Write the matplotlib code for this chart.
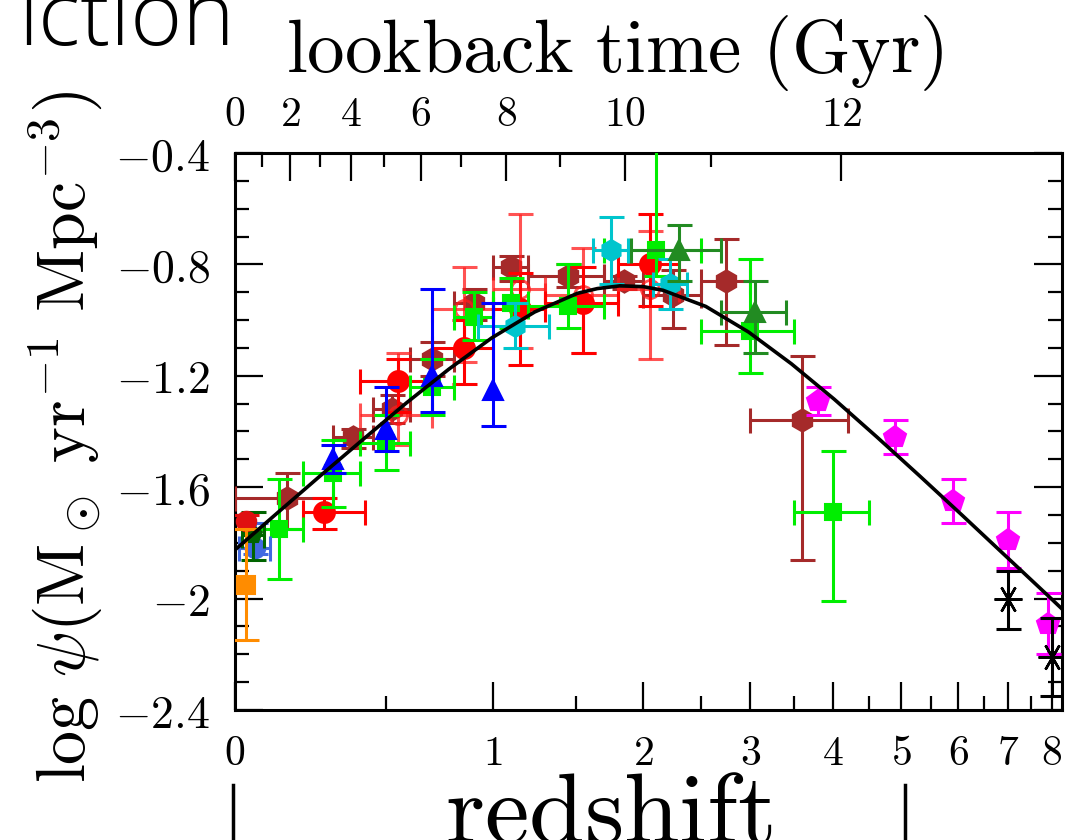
import numpy as np
import matplotlib
matplotlib.use('Agg')
import matplotlib.pyplot as plt
from matplotlib.lines import Line2D
from matplotlib.ticker import FixedLocator, FixedFormatter

plt.rcParams['mathtext.fontset'] = 'cm'
plt.rcParams['font.family'] = ['DejaVu Serif']

# --- cosmic star formation rate density data (redshift, log psi) ---
# UV
wyder_z, wyder_lo, wyder_hi = [0.055], [0.01], [0.1]
wyder_y, wyder_up, wyder_dn = [-1.82], [0.09], [0.02]

schim_z = [0.3, 0.5, 0.7, 1.0]
schim_y = [-1.50, -1.39, -1.20, -1.25]
schim_up = [0.05, 0.15, 0.31, 0.31]
schim_dn = [0.05, 0.08, 0.13, 0.13]

robot_z, robot_lo, robot_hi = [0.05], [0.02], [0.08]
robot_y, robot_up, robot_dn = [-1.77], [0.08], [0.09]

cucc_z = [0.125, 0.3, 0.5, 0.7, 0.9, 1.1, 1.45, 2.1, 3.0, 4.0]
cucc_lo = [0.05, 0.2, 0.4, 0.6, 0.8, 1.0, 1.2, 1.7, 2.5, 3.5]
cucc_hi = [0.2, 0.4, 0.6, 0.8, 1.0, 1.2, 1.7, 2.5, 3.5, 4.5]
cucc_y = [-1.75, -1.55, -1.44, -1.24, -0.99, -0.94, -0.95, -0.75, -1.04, -1.69]
cucc_up = [0.18, 0.12, 0.10, 0.10, 0.09, 0.09, 0.15, 0.49, 0.26, 0.22]
cucc_dn = [0.18, 0.12, 0.10, 0.10, 0.08, 0.09, 0.08, 0.09, 0.15, 0.32]

dahlen_z = [1.125, 1.75, 2.225]
dahlen_lo = [0.92, 1.62, 2.08]
dahlen_hi = [1.33, 1.88, 2.37]
dahlen_y = [-1.02, -0.75, -0.87]
dahlen_err = [0.08, 0.12, 0.09]

reddy_z, reddy_lo, reddy_hi = [2.3, 3.05], [1.9, 2.7], [2.7, 3.4]
reddy_y, reddy_up, reddy_dn = [-0.75, -0.97], [0.09, 0.11], [0.11, 0.15]

bouw_z = [3.8, 4.9, 5.9, 7.0, 7.9]
bouw_y = [-1.29, -1.42, -1.65, -1.79, -2.09]
bouw_err = [0.05, 0.06, 0.08, 0.10, 0.11]

schenk_z = [7.0, 8.0]
schenk_y = [-2.00, -2.21]
schenk_up = [0.10, 0.14]
schenk_dn = [0.11, 0.14]

# IR
sand_z, sand_y, sand_up, sand_dn = [0.03], [-1.72], [0.02], [0.03]
take_z, take_y, take_err = [0.03], [-1.95], [0.20]

mag11_z = [0.55, 0.85, 1.15, 1.55, 2.05]
mag11_lo = [0.4, 0.7, 1.0, 1.3, 1.8]
mag11_hi = [0.7, 1.0, 1.3, 1.8, 2.3]
mag11_y = [-1.34, -0.96, -0.89, -0.91, -0.89]
mag11_up = [0.22, 0.15, 0.27, 0.17, 0.21]
mag11_dn = [0.11, 0.19, 0.21, 0.21, 0.25]

mag13_z = [0.27, 0.55, 0.85, 1.15, 1.55, 2.05]
mag13_lo = [0.2, 0.4, 0.7, 1.0, 1.3, 1.8]
mag13_hi = [0.42, 0.7, 1.0, 1.3, 1.8, 2.3]
mag13_y = [-1.69, -1.22, -1.10, -0.96, -0.94, -0.80]
mag13_up = [0.05, 0.08, 0.10, 0.13, 0.13, 0.18]
mag13_dn = [0.06, 0.11, 0.13, 0.20, 0.18, 0.15]

grup_z = [0.15, 0.375, 0.525, 0.7, 0.9, 1.1, 1.45, 1.85, 2.25, 2.75, 3.6]
grup_lo = [0.0, 0.3, 0.45, 0.6, 0.8, 1.0, 1.2, 1.7, 2.0, 2.5, 3.0]
grup_hi = [0.3, 0.45, 0.6, 0.8, 1.0, 1.2, 1.7, 2.0, 2.5, 3.0, 4.2]
grup_y = [-1.64, -1.42, -1.32, -1.14, -0.94, -0.81, -0.84, -0.86, -0.91, -0.86, -1.36]
grup_up = [0.09, 0.03, 0.05, 0.06, 0.05, 0.04, 0.04, 0.02, 0.09, 0.15, 0.23]
grup_dn = [0.11, 0.04, 0.05, 0.06, 0.06, 0.05, 0.04, 0.03, 0.12, 0.23, 0.50]

# best-fit curve, read along its length
fit_z = [0.0, 0.122, 0.259, 0.413, 0.585, 0.778, 0.995, 1.239, 1.512, 1.65,
         1.818, 2.0, 2.162, 2.548, 2.981, 3.467, 4.012, 4.623, 5.31, 6.079,
         6.943, 7.913, 8.33]
fit_y = [-1.825, -1.691, -1.558, -1.427, -1.298, -1.176, -1.064, -0.971,
         -0.904, -0.887, -0.877, -0.880, -0.893, -0.951, -1.043, -1.157,
         -1.284, -1.420, -1.560, -1.702, -1.846, -1.990, -2.048]

y_ticks = [-0.4, -0.8, -1.2, -1.6, -2.0, -2.4]
y_labels = ['$-0.4$', '$-0.8$', '$-1.2$', '$-1.6$', '$-2$', '$-2.4$']
z_ticks = [0, 1, 2, 3, 4, 5, 6, 7, 8]
lookback_major = [0, 2, 4, 6, 8, 10, 12]
lookback_minor = [1, 3, 5, 7, 9, 11]

# flat LCDM, H0=70, Om=0.3
OM, OL = 0.3, 0.7
A = 2.0 / 3.0 * (977.8 / 70.0) / np.sqrt(OL)
T0 = A * np.arcsinh(np.sqrt(OL / OM))


def z_at_lookback(t):
    age = T0 - np.asarray(t, dtype=float)
    x = np.sinh(age / A) / np.sqrt(OL / OM)
    return np.maximum(x ** (-2.0 / 3.0) - 1.0, 0.0)


def fwd(z):
    return np.log10(1.0 + np.asarray(z))


def inv(u):
    return 10.0 ** np.asarray(u) - 1.0


fig = plt.figure(figsize=(10.66, 8.40), dpi=100)
ax = fig.add_axes([0.2205, 0.1548, 0.7757, 0.6631])
ax.set_xscale('function', functions=(fwd, inv))


def draw(z, y, up, dn, color, marker, ms, lo=None, hi=None, mfc=None, alpha=1.0, mew=1.5):
    xerr = None
    if lo is not None:
        xerr = [np.subtract(z, lo), np.subtract(hi, z)]
    ax.errorbar(z, y, yerr=[dn, up], xerr=xerr, fmt='none', ecolor=color,
                elinewidth=2.2, capsize=9, capthick=2.2, alpha=alpha, zorder=3)
    ax.plot(z, y, ls='none', marker=marker, ms=ms, mec=color, mew=mew,
            mfc=color if mfc is None else mfc, alpha=alpha, zorder=3)


draw(grup_z, grup_y, grup_up, grup_dn, '#a52a2a', 'h', 16, grup_lo, grup_hi)
draw(mag11_z, mag11_y, mag11_up, mag11_dn, '#ff1a1a', 'o', 13, mag11_lo, mag11_hi,
     mfc='none', alpha=0.75, mew=2)
draw(mag13_z, mag13_y, mag13_up, mag13_dn, '#ff0000', 'o', 15, mag13_lo, mag13_hi)
draw(cucc_z, cucc_y, cucc_up, cucc_dn, '#00ee00', 's', 12, cucc_lo, cucc_hi)
draw(dahlen_z, dahlen_y, dahlen_err, dahlen_err, '#00c5cd', 'h', 15, dahlen_lo, dahlen_hi)
draw(reddy_z, reddy_y, reddy_up, reddy_dn, '#228b22', '^', 14, reddy_lo, reddy_hi)
draw(schim_z, schim_y, schim_up, schim_dn, '#0000ff', '^', 14)
draw(wyder_z, wyder_y, wyder_up, wyder_dn, '#4169e1', 'o', 14, wyder_lo, wyder_hi)
draw(robot_z, robot_y, robot_up, robot_dn, '#006400', 'p', 13, robot_lo, robot_hi)
draw(sand_z, sand_y, sand_up, sand_dn, '#e01010', 'o', 14)
draw(take_z, take_y, take_err, take_err, '#ff8c00', 's', 13)
draw(bouw_z, bouw_y, bouw_err, bouw_err, '#ff00ff', 'p', 16)
draw(schenk_z, schenk_y, schenk_up, schenk_dn, '#000000', (6, 2, 90), 20, mew=1.8)

ax.plot(fit_z, fit_y, color='black', lw=2.6, zorder=6)

ax.set_xlim(0, 8.25)
ax.set_ylim(-2.4, -0.4)
for s in ax.spines.values():
    s.set_linewidth(2.2)

ax.xaxis.set_major_locator(FixedLocator(z_ticks))
ax.xaxis.set_major_formatter(FixedFormatter(['$%d$' % z for z in z_ticks]))
ax.xaxis.set_minor_locator(FixedLocator([z + 0.5 for z in z_ticks[:-1]]))
ax.yaxis.set_major_locator(FixedLocator(y_ticks))
ax.yaxis.set_major_formatter(FixedFormatter(y_labels))
ax.yaxis.set_minor_locator(FixedLocator(np.arange(-2.3, -0.4, 0.1)))

ax.tick_params(which='both', direction='in', width=1.6, top=False, right=True)
ax.tick_params(which='major', length=20)
ax.tick_params(which='minor', length=10)
ax.tick_params(axis='x', labelsize=30, pad=16)
ax.tick_params(axis='y', labelsize=33, pad=18)

# lookback time along the top
top = ax.twiny()
top.set_xscale('function', functions=(fwd, inv))
top.set_xlim(ax.get_xlim())
top.xaxis.set_major_locator(FixedLocator(z_at_lookback(lookback_major)))
top.xaxis.set_major_formatter(FixedFormatter(['$%d$' % t for t in lookback_major]))
top.xaxis.set_minor_locator(FixedLocator(z_at_lookback(lookback_minor)))
top.tick_params(which='both', direction='in', width=1.6)
top.tick_params(which='major', length=20, labelsize=30, pad=13)
top.tick_params(which='minor', length=10)
for s in top.spines.values():
    s.set_visible(False)

ax.set_ylabel(r'$\log\,\psi({\rm M}_\odot\ {\rm yr}^{-1}\ {\rm Mpc}^{-3})$',
              fontsize=49, labelpad=4)
ax.yaxis.set_label_coords(-0.158, 0.49)

fig.text(0.577, 0.914, r'$\mathrm{lookback\ time\ (Gyr)}$', fontsize=54,
         ha='center', va='baseline')
fig.text(0.571, -0.004, r'$\mathrm{redshift}$', fontsize=72,
         ha='center', va='baseline')
fig.text(0.221, 0.946, 'iction', fontsize=64, family=['Open Sans', 'DejaVu Sans'],
         fontweight='light', color='black', ha='right', va='baseline')

for xp in (233 / 1066, 905 / 1066):
    fig.add_artist(Line2D([xp, xp], [0, 55 / 840], color='black', lw=2.5,
                          transform=fig.transFigure))

fig.savefig('out.png', dpi=100)
